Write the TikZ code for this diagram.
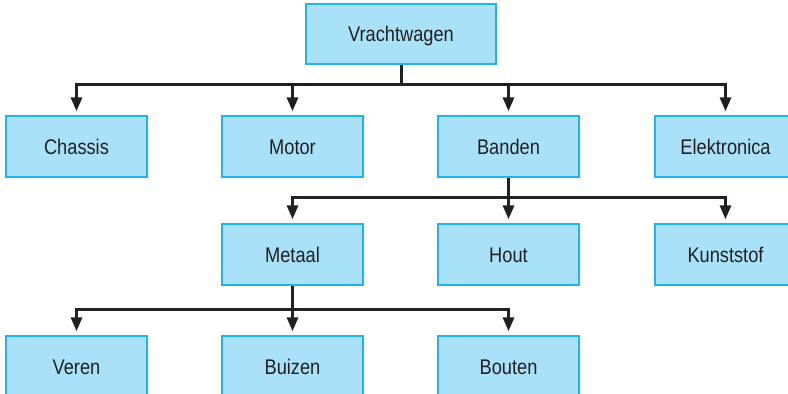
\documentclass[tikz,border=0pt]{standalone}
\usepackage{fontspec}
\setmainfont[FakeStretch=0.86]{Liberation Sans}
\usetikzlibrary{arrows.meta}
\definecolor{boxfill}{HTML}{A9E1F9}
\definecolor{boxdraw}{HTML}{20B4EE}
\definecolor{linec}{HTML}{231F20}
\begin{document}
\begin{tikzpicture}[x=1pt,y=-1pt,
  box/.style={rectangle, fill=boxfill, draw=boxdraw, line width=1.4pt,
    minimum width=141pt, minimum height=61pt, inner sep=0pt,
    text height=15pt, text depth=0pt,
    font=\fontsize{21.2}{24}\selectfont, text=linec},
  conn/.style={draw=linec, line width=3pt},
  arr/.style={conn, -{Triangle[length=14pt,width=11pt]}, shorten >=4pt}]
\useasboundingbox (0,0) rectangle (788,394);
\begin{scope}
\clip (0,0) rectangle (788,394);
\node[box, minimum width=190pt, minimum height=60pt] (vr) at (401,34) {Vrachtwagen};
\node[box] (chassis) at (76.5,146.5) {Chassis};
\node[box] (motor) at (292.5,146.5) {Motor};
\node[box] (banden) at (508.5,146.5) {Banden};
\node[box] (elek) at (725.5,146.5) {Elektronica};
\node[box] (metaal) at (292.5,254.5) {Metaal};
\node[box] (hout) at (508.5,254.5) {Hout};
\node[box] (kunst) at (725.5,254.5) {Kunststof};
\node[box] (veren) at (76.5,366.5) {Veren};
\node[box] (buizen) at (292.5,366.5) {Buizen};
\node[box] (bouten) at (508.5,366.5) {Bouten};
\end{scope}
\coordinate (b1) at (401,84);
\coordinate (b2) at (508.5,197);
\coordinate (b3) at (292.5,309);
\draw[conn] (vr.south) -- (b1);
\foreach \t in {chassis,motor,banden,elek}
  \draw[arr] (b1) -| (\t.north);
\draw[conn] (banden.south) -- (b2);
\foreach \t in {metaal,hout,kunst}
  \draw[arr] (b2) -| (\t.north);
\draw[conn] (metaal.south) -- (b3);
\foreach \t in {veren,buizen,bouten}
  \draw[arr] (b3) -| (\t.north);
\end{tikzpicture}
\end{document}
